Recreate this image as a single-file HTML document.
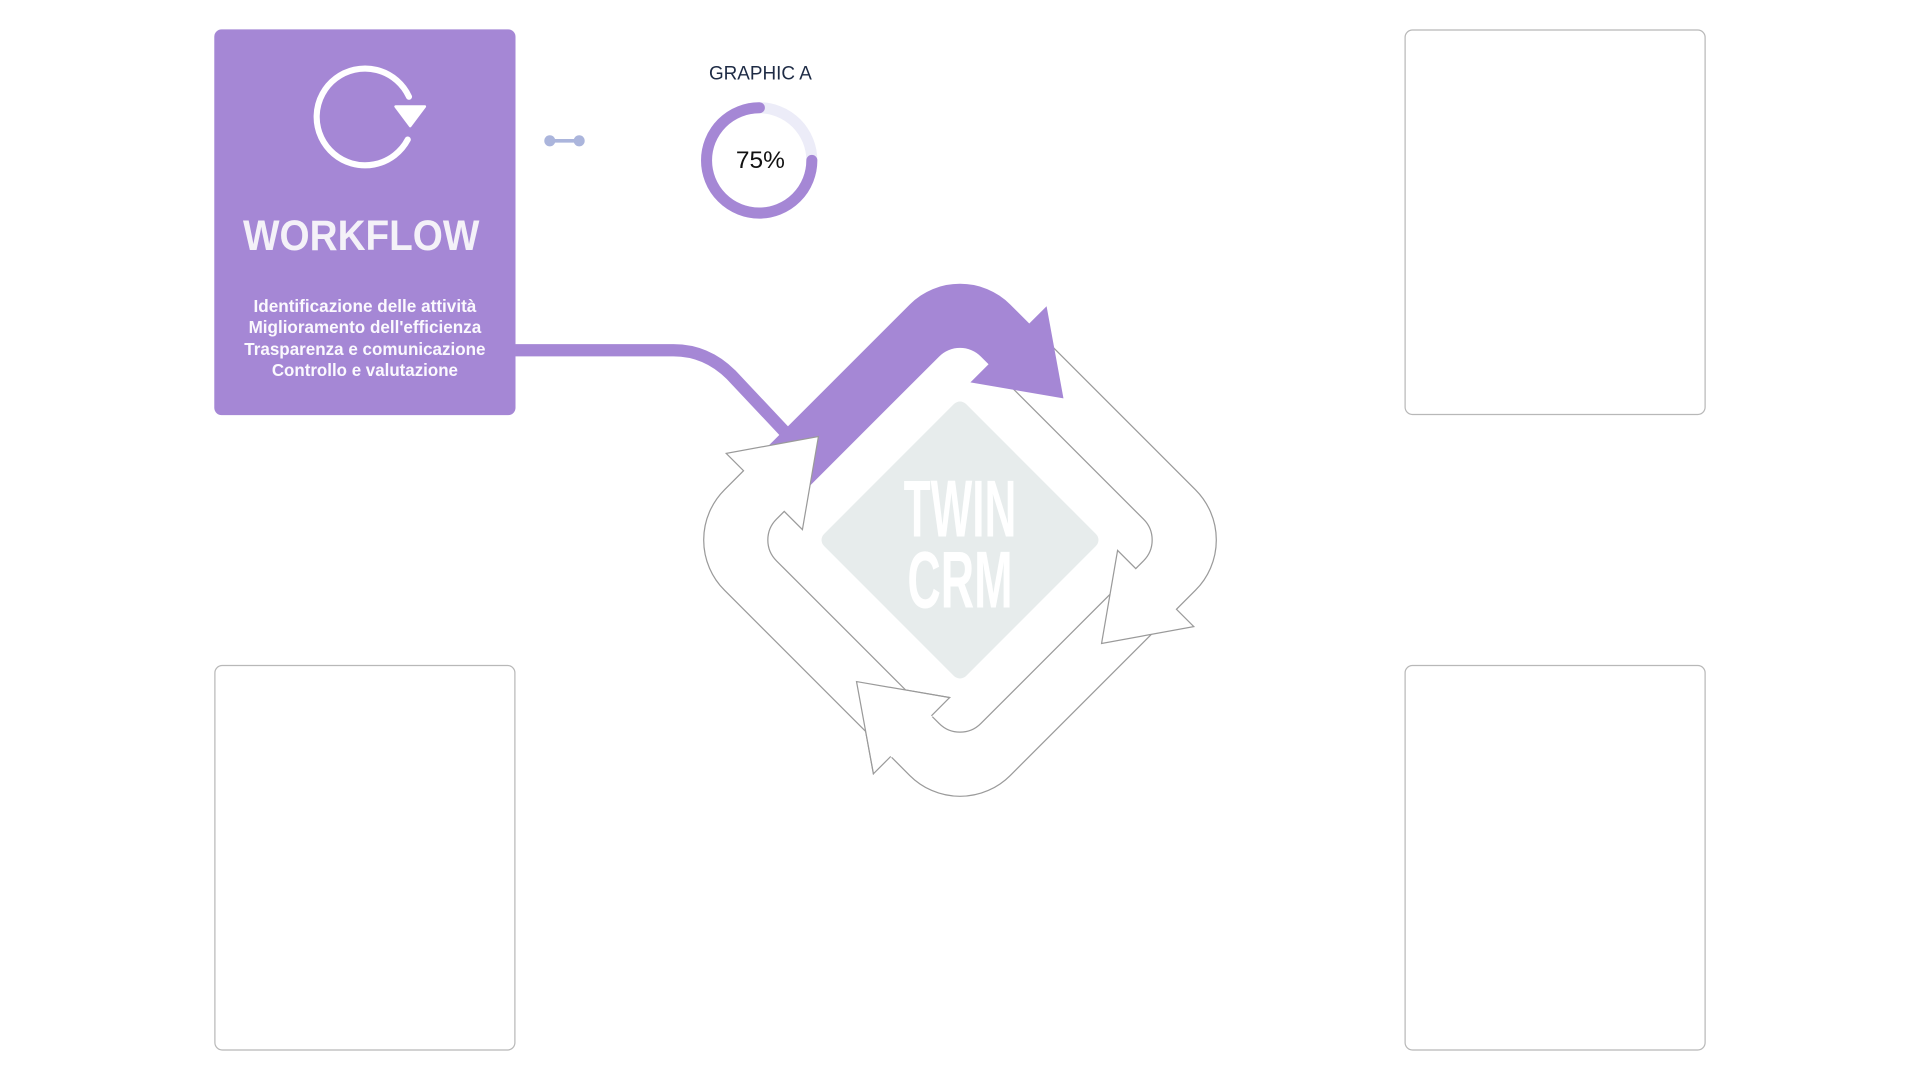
<!DOCTYPE html>
<html><head><meta charset="utf-8"><style>
html,body{margin:0;padding:0;background:#fff;width:1920px;height:1080px;overflow:hidden}
svg{display:block}
text{font-family:"Liberation Sans",sans-serif}
</style></head><body>
<svg width="1920" height="1080" viewBox="0 0 1568 882" xmlns="http://www.w3.org/2000/svg">
<!-- boxes -->
<rect x="175" y="24" width="246" height="315" rx="6" fill="#a587d5"/>
<rect x="1147.5" y="24.5" width="245" height="314" rx="6" fill="#fff" stroke="#b8b8b8"/>
<rect x="175.5" y="543.5" width="245" height="314" rx="6" fill="#fff" stroke="#b8b8b8"/>
<rect x="1147.5" y="543.5" width="245" height="314" rx="6" fill="#fff" stroke="#b8b8b8"/>
<!-- refresh icon -->
<path d="M333,114 A39.5,39.5 0 1 1 334,79" fill="none" stroke="#fff" stroke-width="5" stroke-linecap="round"/>
<polygon points="323,87 347,87 335,103" fill="#fff" stroke="#fff" stroke-width="2" stroke-linejoin="round"/>
<text x="295" y="204" font-size="35" font-weight="bold" fill="#f4f1f8" text-anchor="middle" textLength="193" lengthAdjust="spacingAndGlyphs">WORKFLOW</text>
<g font-size="14.5" font-weight="bold" fill="#fbf9fe" text-anchor="middle">
<text x="298" y="255" textLength="182" lengthAdjust="spacingAndGlyphs">Identificazione delle attività</text>
<text x="298" y="272" textLength="190" lengthAdjust="spacingAndGlyphs">Miglioramento dell'efficienza</text>
<text x="298" y="290" textLength="197" lengthAdjust="spacingAndGlyphs">Trasparenza e comunicazione</text>
<text x="298" y="307" textLength="152" lengthAdjust="spacingAndGlyphs">Controllo e valutazione</text>
</g>
<!-- small connector -->
<line x1="449" y1="115" x2="473" y2="115" stroke="#abb5dc" stroke-width="3"/>
<circle cx="449" cy="115" r="4.5" fill="#abb5dc"/><circle cx="473" cy="115" r="4.5" fill="#abb5dc"/>
<!-- graphic A -->
<text x="621" y="65" font-size="16" fill="#1e2b45" text-anchor="middle" textLength="84" lengthAdjust="spacingAndGlyphs">GRAPHIC A</text>
<circle cx="620" cy="131" r="43" fill="none" stroke="#ececf8" stroke-width="9"/>
<circle cx="620" cy="131" r="43" fill="none" stroke="#a587d5" stroke-width="9" stroke-linecap="round" stroke-dasharray="202.6 1000" transform="rotate(0 620 131)"/>
<text x="621" y="137" font-size="20" fill="#111" text-anchor="middle">75%</text>
<!-- connector -->
<path d="M421,286 H550 Q577,286 597,306 L645,357" fill="none" stroke="#a587d5" stroke-width="10"/>
<!-- cycle -->
<g transform="translate(784,441) rotate(45)">
<defs>
<path id="arr" d="M-165,65 L-165,-107 A58,58 0 0 1 -107,-165 L-85,-165 L-85,-185 L-22,-141.5 L-85,-97 L-85,-118 L-94,-118 A24,24 0 0 0 -118,-94 L-118,65 Z"/>
</defs>
<rect x="-82" y="-82" width="164" height="164" rx="7" fill="#e7ecec"/>
<use href="#arr" transform="rotate(180)" fill="#fff" stroke="#9a9a9a" stroke-width="1"/>
<use href="#arr" transform="rotate(90)" fill="#fff" stroke="#9a9a9a" stroke-width="1"/>
<use href="#arr" fill="#a587d5"/>
<use href="#arr" transform="rotate(270)" fill="#fff" stroke="#9a9a9a" stroke-width="1"/>
<g transform="rotate(180)">
<polygon points="-86,-164.5 -86,-185 -22,-141.5 -86,-97 -86,-118.5" fill="#fff"/>
<polyline points="-85,-165 -85,-185 -22,-141.5 -85,-97 -85,-118" fill="none" stroke="#9a9a9a" stroke-width="1"/>
</g>
</g>
<g fill="#fff" font-family="'Liberation Sans Narrow','Liberation Sans',sans-serif" font-weight="bold" text-anchor="middle">
<text x="784" y="438" font-size="66" textLength="92" lengthAdjust="spacingAndGlyphs">TWIN</text>
<text x="784" y="496" font-size="66" textLength="86" lengthAdjust="spacingAndGlyphs">CRM</text>
</g>
</svg>
</body></html>
